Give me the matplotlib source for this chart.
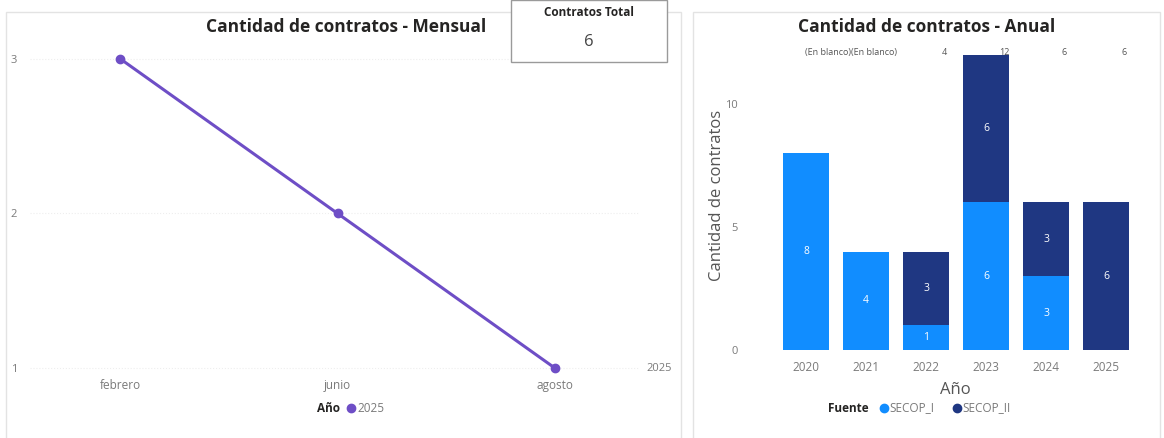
import numpy as np
import matplotlib
matplotlib.use("Agg")
import matplotlib.pyplot as plt
from matplotlib.lines import Line2D
from matplotlib.patches import Rectangle

plt.rcParams['font.family'] = ['Open Sans', 'DejaVu Sans']

# monthly data
meses = ['febrero', 'junio', 'agosto']
mensual = [3, 2, 1]
anio_serie = '2025'

# yearly data
anios = ['2020', '2021', '2022', '2023', '2024', '2025']
secop_i = [8, 4, 1, 6, 3, 0]
secop_ii = [0, 0, 3, 6, 3, 6]
totales = ['4', '12', '6', '6']
contratos_total = 6

W, H = 1164, 438
PURPLE = '#6E4EC6'
BLUE = '#118DFF'
NAVY = '#1F3782'
GREY = '#7a7a7a'
DARK = '#252423'

fig = plt.figure(figsize=(W / 100, H / 100), dpi=100)


def fx(px):
    return px / W


def fy(py):
    return 1 - py / H


def box(x0, y0, x1, y1):
    # pixel box -> figure rect
    return [fx(x0), fy(y1), fx(x1) - fx(x0), fy(y0) - fy(y1)]


# panel frames
for x0, x1 in [(6, 681), (693, 1160)]:
    fig.add_artist(Rectangle((fx(x0), fy(440)), fx(x1) - fx(x0), fy(12) - fy(440),
                             transform=fig.transFigure, fill=False,
                             edgecolor='#e3e3e3', lw=1.0))

# ---- left chart: monthly line ----
ax1 = fig.add_axes(box(30, 20, 640, 376))
x = np.arange(len(meses))
ax1.plot(x, mensual, color=PURPLE, lw=2.2, marker='o', ms=6)
ax1.set_xlim(-0.414, 2.39)
ax1.set_ylim(0.95, 3.25)
ax1.set_yticks([1, 2, 3])
ax1.set_xticks(x)
ax1.set_xticklabels(meses)
ax1.tick_params(length=0, labelsize=8.5, colors=GREY, pad=2)
for lab in ax1.get_yticklabels():
    lab.set_horizontalalignment('left')
ax1.yaxis.set_tick_params(pad=14, labelsize=8)
ax1.grid(axis='y', color='#eeeeee', lw=0.8, ls=':')
for s in ax1.spines.values():
    s.set_visible(False)
ax1.text(2.42, mensual[-1], anio_serie, fontsize=8, color=GREY, va='center', ha='left',
         clip_on=False)

fig.text(fx(346), fy(27), 'Cantidad de contratos - Mensual', ha='center', va='center',
         fontsize=12.5, fontweight='bold', color=DARK)

# left legend
fig.text(fx(340), fy(408), 'Año', ha='right', va='center', fontsize=8.5,
         fontweight='bold', color=DARK)
fig.add_artist(Line2D([fx(351)], [fy(408)], marker='o', ms=6, color=PURPLE,
                      transform=fig.transFigure))
fig.text(fx(357), fy(408), anio_serie, ha='left', va='center', fontsize=8.5, color=GREY)

# KPI card
fig.add_artist(Rectangle((fx(511), fy(62)), fx(667) - fx(511), fy(0) - fy(62),
                         transform=fig.transFigure, facecolor='white',
                         edgecolor='#9a9a9a', lw=1.0))
fig.text(fx(589), fy(12), 'Contratos Total', ha='center', va='center', fontsize=8.5,
         fontweight='bold', color=DARK)
fig.text(fx(589), fy(42), str(contratos_total), ha='center', va='center', fontsize=12,
         color='#444444')

# ---- right chart: yearly stacked bars ----
ax2 = fig.add_axes(box(760, 40, 1150, 350))
xb = np.arange(len(anios))
ax2.bar(xb, secop_i, width=0.76, color=BLUE, label='SECOP_I', zorder=3)
ax2.bar(xb, secop_ii, width=0.76, bottom=secop_i, color=NAVY, label='SECOP_II', zorder=3)
for i in range(len(anios)):
    if secop_i[i] > 0:
        ax2.text(i, secop_i[i] / 2, str(secop_i[i]), ha='center', va='center',
                 color='white', fontsize=7.5, zorder=4)
    if secop_ii[i] > 0:
        ax2.text(i, secop_i[i] + secop_ii[i] / 2, str(secop_ii[i]), ha='center',
                 va='center', color='white', fontsize=7.5, zorder=4)

ax2.set_xlim(-0.77, 5.73)
ax2.set_ylim(0, 12.6)
ax2.set_yticks([0, 5, 10])
ax2.set_xticks(xb)
ax2.set_xticklabels(anios)
ax2.tick_params(length=0, labelsize=8.5, colors=GREY, pad=8)
ax2.tick_params(axis='y', pad=16, labelsize=8)
for s in ax2.spines.values():
    s.set_visible(False)
ax2.set_xlabel('Año', fontsize=12, color='#555555', labelpad=6)
ax2.set_ylabel('Cantidad de contratos', fontsize=12, color='#555555', labelpad=0)

# totals row (Power BI overlap)
ax2.text(0.75, 12.1, '(En blanco)(En blanco)', ha='center', va='center', fontsize=6.5,
         color='#555555', zorder=1)
for j, t in enumerate(totales):
    ax2.text(2 + j + 0.3, 12.1, t, ha='center', va='center', fontsize=6.5,
             color='#555555', zorder=1)

fig.text(fx(927), fy(27), 'Cantidad de contratos - Anual', ha='center', va='center',
         fontsize=12.5, fontweight='bold', color=DARK)

# right legend
fig.text(fx(869), fy(408), 'Fuente', ha='right', va='center', fontsize=8.5,
         fontweight='bold', color=DARK)
fig.add_artist(Line2D([fx(884)], [fy(408)], marker='o', ms=6, color=BLUE,
                      transform=fig.transFigure))
fig.text(fx(889), fy(408), 'SECOP_I', ha='left', va='center', fontsize=8.5, color=GREY)
fig.add_artist(Line2D([fx(957)], [fy(408)], marker='o', ms=6, color=NAVY,
                      transform=fig.transFigure))
fig.text(fx(962), fy(408), 'SECOP_II', ha='left', va='center', fontsize=8.5, color=GREY)

fig.savefig('out.png', dpi=100, facecolor='white')
